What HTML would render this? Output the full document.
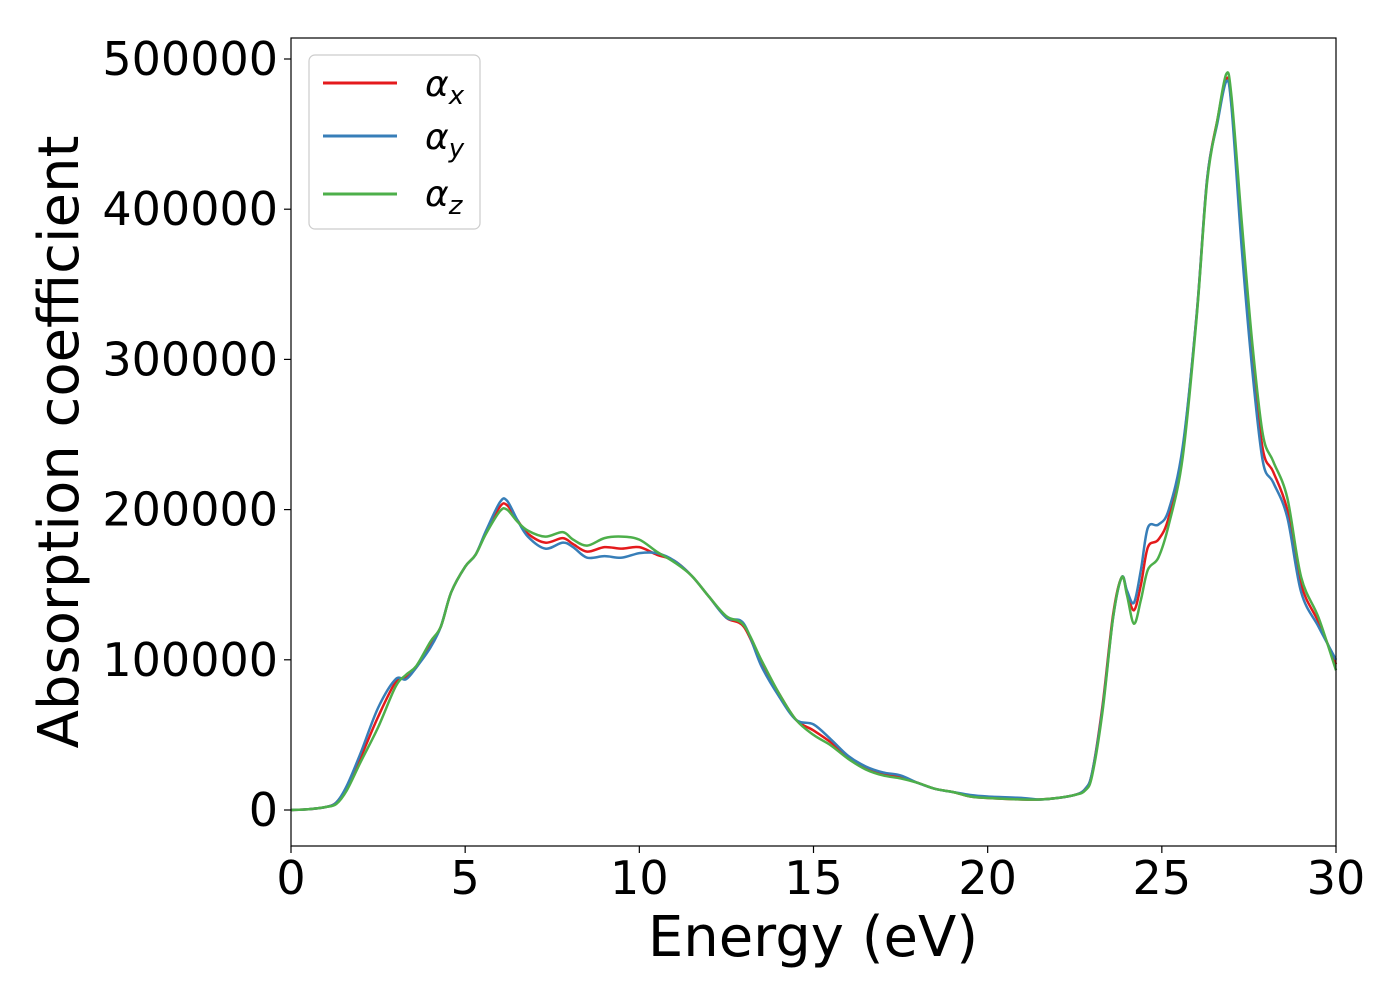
<!DOCTYPE html>
<html><head><meta charset="utf-8"><style>
html,body{margin:0;padding:0;background:#fff;}
svg text{font-family:"DejaVu Sans","Liberation Sans",sans-serif;}
</style></head><body>
<svg id="chart" width="1400" height="1000" xmlns="http://www.w3.org/2000/svg">
<rect width="1400" height="1000" fill="#fff"/>
<g id="lines"></g>
<g id="xticks"></g>
<g id="yticks"></g>
<rect x="291" y="38" width="1045" height="808" fill="none" stroke="#000" stroke-width="1.2"/>
<text x="813" y="956" font-size="56" text-anchor="middle">Energy (eV)</text>
<text transform="translate(78,442) rotate(-90)" font-size="56" text-anchor="middle">Absorption coefficient</text>
<g>
<rect x="309" y="55" width="171" height="174" rx="6" fill="#fff" stroke="#ccc" stroke-width="1.2"/>
<line x1="323" y1="83" x2="397" y2="83" stroke="#e41a1c" stroke-width="3"/>
<line x1="323" y1="136" x2="397" y2="136" stroke="#377eb8" stroke-width="3"/>
<line x1="323" y1="194" x2="397" y2="194" stroke="#4daf4a" stroke-width="3"/>
<text x="425" y="96" font-size="36" font-style="italic">α<tspan font-size="26" dy="8">x</tspan></text>
<text x="425" y="149" font-size="36" font-style="italic">α<tspan font-size="26" dy="8">y</tspan></text>
<text x="425" y="206" font-size="36" font-style="italic">α<tspan font-size="26" dy="8">z</tspan></text>
</g>
</svg>
<script>
const energy=[0,0.5,1,1.3,1.6,2,2.5,3,3.3,3.6,4,4.3,4.6,5,5.3,5.6,6,6.2,6.5,6.8,7.3,7.8,8.1,8.5,9,9.5,10,10.5,11,11.5,12,12.5,13,13.5,14,14.5,15,15.5,16,16.5,17,17.5,18,18.5,19,19.5,20,21,21.5,22,22.5,22.8,23,23.3,23.6,23.85,24,24.2,24.4,24.6,24.9,25.2,25.6,26,26.3,26.6,26.85,27,27.3,27.6,27.9,28.2,28.6,29,29.5,30];
const alphaX=[0,0.5,2,5,15,35,62,85,88,95,110,122,145,162,170,185,202,203,193,184,178,181,177,172,175,174,175,170,166,156,142,128,122,98,78,60,53,45,35,28,24,22,18,14,12,9,8,7,7,8,10,14,25,70,130,155,145,133,150,175,180,195,240,330,420,460,487,470,380,300,240,225,200,150,125,97];
const alphaY=[0,0.5,2,5,16,38,68,87,87,95,108,122,145,162,170,186,205,206,193,182,174,178,175,168,169,168,171,171,166,156,142,128,124,96,76,60,57,47,36,29,25,23,18,14,12,10,9,8,7,8,10,14,25,68,128,155,146,138,160,188,190,200,242,330,420,458,485,468,372,292,232,218,195,145,122,100];
const alphaZ=[0,0.5,2,4,13,32,55,82,90,96,112,122,145,162,170,184,199,200,192,186,182,185,180,176,181,182,180,172,165,156,142,129,123,100,78,60,50,43,34,27,23,21,18,14,12,9,8,7,7,8,10,13,23,66,128,155,143,124,140,160,168,190,235,328,418,460,490,475,390,310,250,232,208,155,128,93];
const xTicks=[0,5,10,15,20,25,30];
const yTicks=[0,100000,200000,300000,400000,500000];
const NS="http://www.w3.org/2000/svg";
function xs(v){return 291+v*(1045/30);}
function ys(v){return 810-v*(751/500000);}
function mk(t,a){const e=document.createElementNS(NS,t);for(const k in a)e.setAttribute(k,a[k]);return e;}
const lines=document.getElementById('lines');
[[alphaX,'#e41a1c','series-alpha-x'],[alphaY,'#377eb8','series-alpha-y'],[alphaZ,'#4daf4a','series-alpha-z']].forEach(([vals,c,n])=>{
  const pts=energy.map((e,i)=>[xs(e),ys(vals[i]*1000)]);
  let d='M'+pts[0][0]+','+pts[0][1];
  for(let i=0;i<pts.length-1;i++){
    const p0=pts[Math.max(i-1,0)],p1=pts[i],p2=pts[i+1],p3=pts[Math.min(i+2,pts.length-1)];
    const c1=[p1[0]+(p2[0]-p0[0])/6,p1[1]+(p2[1]-p0[1])/6],c2=[p2[0]-(p3[0]-p1[0])/6,p2[1]-(p3[1]-p1[1])/6];
    d+=' C'+c1+' '+c2+' '+p2;
  }
  const p=mk('path',{d:d,fill:'none',stroke:c,'stroke-width':2.5});
  
  
  lines.appendChild(p);
});
const xg=document.getElementById('xticks');
xTicks.forEach(t=>{
  const l=mk('line',{x1:xs(t),x2:xs(t),y1:846,y2:853,stroke:'#000','stroke-width':1.2});
  
  
  xg.appendChild(l);
  const tx=mk('text',{x:xs(t),y:894,'font-size':46,'text-anchor':'middle'});
  
  
  tx.textContent=t;xg.appendChild(tx);
});
const yg=document.getElementById('yticks');
yTicks.forEach(t=>{
  const l=mk('line',{x1:284,x2:291,y1:ys(t),y2:ys(t),stroke:'#000','stroke-width':1.2});
  
  
  yg.appendChild(l);
  const tx=mk('text',{x:278,y:ys(t)+16,'font-size':46,'text-anchor':'end'});
  
  
  tx.textContent=t;yg.appendChild(tx);
});
</script>
</body></html>
